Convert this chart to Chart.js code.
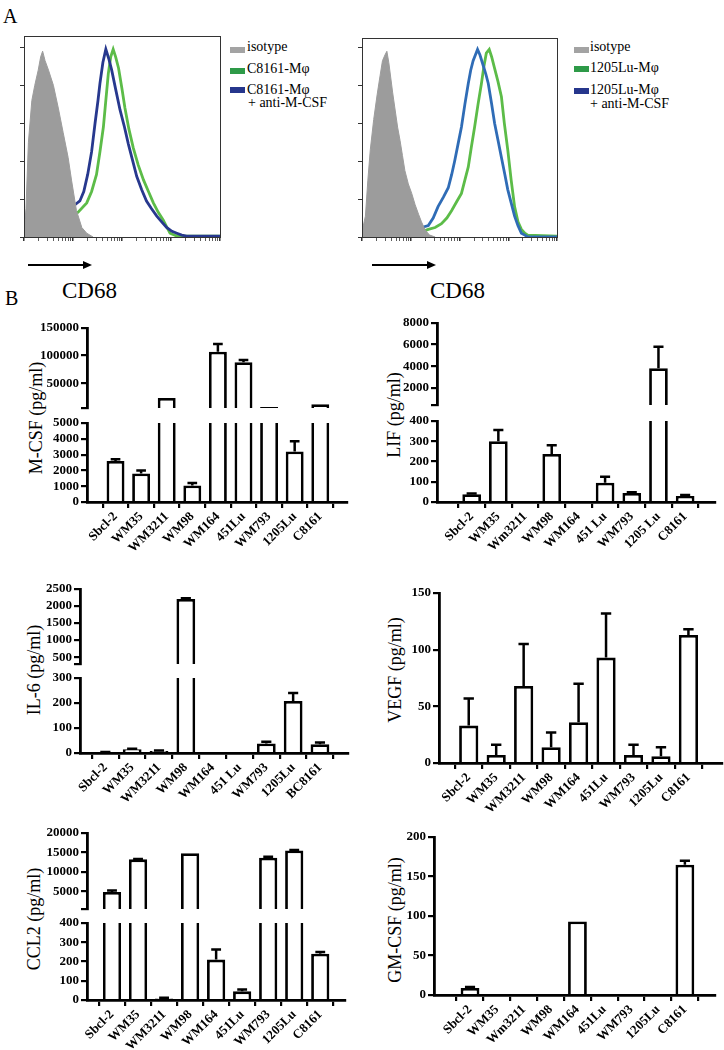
<!DOCTYPE html>
<html>
<head>
<meta charset="utf-8">
<script src="https://cdn.jsdelivr.net/npm/chart.js@4.4.1/dist/chart.umd.min.js"></script>
<style>
body { margin:0; background:#fff; width:724px; height:1050px; position:relative; overflow:hidden; font-family:"Liberation Serif", "Times New Roman", serif; color:#000; }
canvas { position:absolute; }
.t { position:absolute; white-space:nowrap; line-height:1; }
.lg { font-size:14px; }
.sw { position:absolute; width:15px; height:6px; }
.ytitle { position:absolute; white-space:nowrap; line-height:1; font-size:18px; transform:translate(-50%,-50%) rotate(-90deg); }
.arrow { position:absolute; height:1.5px; background:#000; }
.arrow:after { content:''; position:absolute; right:-9px; top:-3.5px; border-left:9px solid #000; border-top:4px solid transparent; border-bottom:4px solid transparent; }
</style>
</head>
<body>

<div class="t" style="left:3px;top:6px;font-size:20px">A</div>
<div class="t" style="left:5px;top:288px;font-size:20px">B</div>

<!-- legend, left histogram -->
<div class="sw" style="left:230px;top:47px;background:#a3a3a3"></div>
<div class="t lg" style="left:247px;top:40px">isotype</div>
<div class="sw" style="left:230px;top:68px;background:#2e9a48"></div>
<div class="t lg" style="left:247px;top:62px">C8161-Mφ</div>
<div class="sw" style="left:230px;top:87px;background:#26368c"></div>
<div class="t lg" style="left:247px;top:83px">C8161-Mφ</div>
<div class="t lg" style="left:248px;top:96px">+ anti-M-CSF</div>

<!-- legend, right histogram -->
<div class="sw" style="left:574px;top:47px;background:#a3a3a3"></div>
<div class="t lg" style="left:590px;top:40px">isotype</div>
<div class="sw" style="left:574px;top:66px;background:#2e9a48"></div>
<div class="t lg" style="left:590px;top:61px">1205Lu-Mφ</div>
<div class="sw" style="left:574px;top:88px;background:#26368c"></div>
<div class="t lg" style="left:590px;top:83px">1205Lu-Mφ</div>
<div class="t lg" style="left:590px;top:97px">+ anti-M-CSF</div>

<div class="arrow" style="left:28px;top:264px;width:55px"></div>
<div class="arrow" style="left:372px;top:264px;width:55px"></div>
<div class="t" style="left:62px;top:279px;font-size:23px">CD68</div>
<div class="t" style="left:430px;top:279px;font-size:23px">CD68</div>

<div class="ytitle" style="left:36px;top:418px">M-CSF (pg/ml)</div>
<div class="ytitle" style="left:394px;top:415px">LIF (pg/ml)</div>
<div class="ytitle" style="left:34px;top:670px">IL-6 (pg/ml)</div>
<div class="ytitle" style="left:395px;top:670px">VEGF (pg/ml)</div>
<div class="ytitle" style="left:34px;top:919px">CCL2 (pg/ml)</div>
<div class="ytitle" style="left:395px;top:920px">GM-CSF (pg/ml)</div>

<script>
// ---- flow histograms: [log decade, % of max] ----
var c8161Iso = [[0,3],[0.04,15],[0.09,50],[0.16,72],[0.22,80],[0.29,88],[0.34,95],[0.38,98],[0.43,93],[0.5,88],[0.6,80],[0.7,68],[0.8,55],[0.9,42],[0.97,30],[1.07,14],[1.18,5],[1.28,2],[1.41,0]];
var c8161Anti = [[0,12],[0.03,5],[0.1,4],[0.3,4],[0.5,4],[0.6,5],[0.73,9],[0.85,12],[0.94,15],[1.04,17],[1.14,19],[1.22,24],[1.3,33],[1.38,45],[1.45,60],[1.51,72],[1.55,81],[1.61,92],[1.67,99],[1.73,94],[1.79,88],[1.87,78],[1.96,67],[2.05,58],[2.13,49],[2.22,40],[2.3,32],[2.4,25],[2.5,19],[2.6,15],[2.71,11],[2.81,8],[2.91,5],[3.02,3],[3.12,2],[3.22,1],[3.32,0.5],[4,0.5]];
var c8161Mac = [[0,9],[0.05,6],[0.2,7],[0.4,8],[0.6,9],[0.8,10],[0.95,11],[1.1,13],[1.28,18],[1.38,24],[1.48,33],[1.55,45],[1.62,58],[1.67,72],[1.72,86],[1.77,95],[1.82,99],[1.87,95],[1.93,89],[2.0,78],[2.06,68],[2.14,57],[2.23,47],[2.33,38],[2.44,30],[2.54,24],[2.64,18],[2.74,13],[2.84,9],[2.92,5],[2.98,2],[3.1,0.7],[3.2,0.5],[4,0.5]];

var lu1205Iso = [[0,3],[0.07,11],[0.12,30],[0.17,46],[0.24,62],[0.31,75],[0.37,85],[0.42,93],[0.47,96],[0.51,98],[0.55,92],[0.58,86],[0.63,76],[0.68,67],[0.73,58],[0.78,51],[0.83,43],[0.88,35],[0.95,28],[1.02,23],[1.09,17],[1.16,12],[1.22,8],[1.29,4],[1.35,2],[1.39,1],[1.5,0]];
var lu1205Anti = [[0,4],[0.1,7],[0.2,8],[0.41,9],[0.55,10],[0.68,10],[0.82,9],[0.95,8],[1.1,7],[1.22,5],[1.36,6],[1.46,10],[1.56,16],[1.67,21],[1.77,26],[1.84,33],[1.9,40],[1.97,49],[2.04,58],[2.11,70],[2.18,81],[2.23,88],[2.28,93],[2.37,99],[2.42,96],[2.48,91],[2.54,86],[2.59,81],[2.66,70],[2.72,60],[2.79,51],[2.86,42],[2.93,33],[2.99,25],[3.06,18],[3.13,11],[3.2,6],[3.27,2],[3.34,1],[3.4,0],[4,0]];
var lu1205Mac = [[0,1],[0.1,2],[0.27,4],[0.5,4],[0.68,4],[0.9,3],[1.09,3],[1.25,3],[1.36,4],[1.5,5],[1.63,7],[1.74,10],[1.84,14],[1.95,19],[2.04,23],[2.11,30],[2.18,37],[2.24,47],[2.31,58],[2.38,70],[2.45,81],[2.5,90],[2.55,97],[2.61,99],[2.66,95],[2.72,89],[2.79,82],[2.86,74],[2.92,60],[2.99,46],[3.06,30],[3.13,16],[3.2,8],[3.27,4],[3.34,2],[3.4,1],[4,0.5]];

// ---- cytokine bar charts (mean, top of error bar) ----
var mcsfCats = ['Sbcl-2','WM35','WM3211','WM98','WM164','451Lu','WM793','1205Lu','C8161'];
var mcsfVals = [2600, 1800, 23000, 1050, 107000, 88000, 7000, 3200, 12000];
var mcsfErr  = [2700, 2000, 23000, 1200, 121000, 92000, 7000, 3850, 12000];
var mcsfTopTicks = [5000, 50000, 100000, 150000];
var mcsfLowTicks = [0, 1000, 2000, 3000, 4000, 5000];

var lifCats = ['Sbcl-2','WM35','Wm3211','WM98','WM164','451 Lu','WM793','1205 Lu','C8161'];
var lifVals = [38, 300, 0, 237, 0, 95, 45, 3800, 30];
var lifErr  = [42, 355, 0, 280, 0, 125, 48, 5800, 35];
var lifTopTicks = [400, 2000, 4000, 6000, 8000];
var lifLowTicks = [0, 100, 200, 300, 400];

var il6Cats = ['Sbcl-2','WM35','WM3211','WM98','WM164','451 Lu','WM793','1205Lu','BC8161'];
var il6Vals = [3, 15, 8, 2210, 0, 0, 38, 208, 35];
var il6Err  = [4, 17, 10, 2230, 0, 0, 45, 240, 42];
var il6TopTicks = [300, 500, 1000, 1500, 2000, 2500];
var il6LowTicks = [0, 100, 200, 300];

var vegfCats = ['Sbcl-2','WM35','WM3211','WM98','WM164','451Lu','WM793','1205Lu','C8161'];
var vegfVals = [33, 7, 68, 14, 36, 93, 7, 6, 113];
var vegfErr  = [57, 16, 105, 27, 70, 132, 16, 14, 118];
var vegfTicks = [0, 50, 100, 150];

var ccl2Cats = ['Sbcl-2','WM35','WM3211','WM98','WM164','451Lu','WM793','1205Lu','C8161'];
var ccl2Vals = [4800, 13200, 8, 14800, 210, 45, 13600, 15500, 240];
var ccl2Err  = [5200, 13300, 12, 14800, 262, 55, 13900, 15600, 250];
var ccl2TopTicks = [400, 5000, 10000, 15000, 20000];
var ccl2LowTicks = [0, 100, 200, 300, 400];

var gmcsfCats = ['Sbcl-2','WM35','Wm3211','WM98','WM164','451Lu','WM793','1205Lu','C8161'];
var gmcsfVals = [9, 0, 0, 0, 93, 0, 0, 0, 165];
var gmcsfErr  = [10, 0, 0, 0, 93, 0, 0, 0, 170];
var gmcsfTicks = [0, 50, 100, 150, 200];

Chart.defaults.font.family = '"Liberation Serif", "Times New Roman", serif';
Chart.defaults.color = '#000';

function addCanvas(l, t, w, h) {
  var c = document.createElement('canvas');
  c.width = w; c.height = h;
  c.style.left = l + 'px'; c.style.top = t + 'px';
  c.style.width = w + 'px'; c.style.height = h + 'px';
  document.body.appendChild(c);
  return c;
}

// upward error bars, clipped to the chart area so broken axes work
var errorBars = {
  id: 'errorBars',
  afterDatasetsDraw: function(chart) {
    var ds = chart.data.datasets[0], err = ds.errors;
    if (!err) return;
    var meta = chart.getDatasetMeta(0), y = chart.scales.y, a = chart.chartArea, ctx = chart.ctx;
    ctx.save();
    ctx.beginPath();
    ctx.rect(a.left, a.top - 1.5, a.right - a.left, a.bottom - a.top + 1.5);
    ctx.clip();
    ctx.strokeStyle = '#000';
    ctx.lineWidth = 2.5;
    meta.data.forEach(function(bar, i) {
      var v = ds.data[i].y;
      if (err[i] <= v || err[i] < y.min || v > y.max) return;
      var y0 = y.getPixelForValue(v), y1 = y.getPixelForValue(err[i]), hw = bar.width * 0.27;
      ctx.beginPath();
      ctx.moveTo(bar.x, y0); ctx.lineTo(bar.x, y1);
      if (err[i] <= y.max) { ctx.moveTo(bar.x - hw, y1); ctx.lineTo(bar.x + hw, y1); }
      ctx.stroke();
    });
    ctx.restore();
  }
};

// one segment of a bar chart; broken axes use two of them
function barPanel(p) {
  var YW = 70, PT = 10, PR = 6, XH = 58, PB = 10;
  var left = p.axisX - YW, top = p.top - PT;
  var w = p.right - left + PR;
  var h = p.bottom - top + (p.showX ? XH : PB);
  var c = addCanvas(left, top, w, h);
  var lo = p.ticks[0], hi = p.ticks[p.ticks.length - 1];
  new Chart(c, {
    type: 'bar',
    data: {
      datasets: [{
        data: p.vals.map(function(v, i) { return {x: i, y: v}; }),
        errors: p.errs,
        backgroundColor: '#fff',
        borderColor: '#000',
        borderWidth: 2.8,
        barPercentage: 0.7,
        categoryPercentage: 1,
        clip: {left: 4, right: 4, top: 0, bottom: 0}
      }]
    },
    options: {
      responsive: false,
      animation: false,
      devicePixelRatio: 1,
      layout: {padding: {top: PT, right: PR, left: 0, bottom: p.showX ? 0 : PB}},
      plugins: {legend: {display: false}, tooltip: {enabled: false}},
      scales: {
        x: {
          type: 'linear',
          display: p.showX,
          min: p.xmin,
          max: p.xmax,
          afterBuildTicks: function(s) { s.ticks = p.cats.map(function(c, i) { return {value: i}; }); },
          afterFit: function(s) { if (p.showX) s.height = XH; },
          ticks: {
            autoSkip: false, minRotation: 45, maxRotation: 45, padding: 1,
            font: {size: 13, weight: 'bold'},
            callback: function(v) { return p.cats[v]; }
          },
          grid: {drawOnChartArea: false, tickLength: 6, color: '#000', lineWidth: 2.2},
          border: {color: '#000', width: 2.8}
        },
        y: {
          min: lo,
          max: hi,
          afterBuildTicks: function(s) { s.ticks = p.ticks.map(function(v) { return {value: v}; }); },
          afterFit: function(s) { s.width = YW; },
          ticks: {
            autoSkip: false,
            padding: 2,
            font: {size: 13, weight: 'bold'},
            callback: function(v) { return (p.blankMin && v === lo) ? '' : String(v); }
          },
          grid: {drawOnChartArea: false, tickLength: 6, color: '#000', lineWidth: 2.2},
          border: {color: '#000', width: 2.8}
        }
      }
    },
    plugins: [errorBars]
  });
}

var frame = {
  id: 'frame',
  afterDraw: function(chart) {
    var a = chart.chartArea, ctx = chart.ctx;
    ctx.save();
    ctx.strokeStyle = '#333';
    ctx.lineWidth = 1;
    ctx.strokeRect(Math.round(a.left) + 0.5, Math.round(a.top) + 0.5, Math.round(a.right - a.left), Math.round(a.bottom - a.top));
    ctx.restore();
  }
};

function logTicks(s) {
  var t = [];
  for (var d = 0; d < 4; d++) {
    for (var k = 1; k < 10; k++) t.push({value: d + Math.log10(k), major: k === 1});
  }
  t.push({value: 4, major: true});
  s.ticks = t;
}

function histPanel(hp) {
  var YW = 5, PT = 3, PR = 3, XH = 5;
  var left = hp.left - YW, top = hp.top - PT;
  var c = addCanvas(left, top, hp.right - left + PR, hp.bottom - top + XH + 2);
  new Chart(c, {
    type: 'line',
    data: {
      datasets: [
        {data: hp.iso, fill: 'origin', backgroundColor: '#9c9c9c', borderColor: '#9c9c9c', borderWidth: 1, pointRadius: 0, tension: 0},
        {data: hp.anti, fill: false, borderColor: hp.blue, borderWidth: 2.8, pointRadius: 0, tension: 0},
        {data: hp.mac, fill: false, borderColor: '#5cbc48', borderWidth: 2.8, pointRadius: 0, tension: 0}
      ]
    },
    options: {
      responsive: false,
      animation: false,
      devicePixelRatio: 1,
      layout: {padding: {top: PT, right: PR, left: 0, bottom: 2}},
      plugins: {legend: {display: false}, tooltip: {enabled: false}},
      scales: {
        x: {
          type: 'linear', min: 0, max: 4,
          afterBuildTicks: logTicks,
          afterFit: function(s) { s.height = XH; },
          ticks: {display: false, autoSkip: false},
          grid: {drawOnChartArea: false, tickLength: 4, color: '#333',
                 lineWidth: function(ctx) { return ctx.tick && ctx.tick.major ? 1.5 : 0.8; }},
          border: {color: '#333', width: 1}
        },
        y: {
          min: 0, max: hp.ymax,
          afterBuildTicks: function(s) { s.ticks = [0, 20, 40, 60, 80, 100].map(function(v) { return {value: v}; }); },
          ticks: {display: false, autoSkip: false},
          afterFit: function(s) { s.width = YW; },
          grid: {drawOnChartArea: false, tickLength: 4, color: '#333', lineWidth: 1},
          border: {color: '#333', width: 1}
        }
      }
    },
    plugins: [frame]
  });
}

histPanel({left: 24, right: 220, top: 36, bottom: 237, ymax: 106, iso: c8161Iso, anti: c8161Anti, mac: c8161Mac, blue: '#27388e'});
histPanel({left: 362, right: 557, top: 38, bottom: 237, ymax: 105, iso: lu1205Iso, anti: lu1205Anti, mac: lu1205Mac, blue: '#2f6cb6'});

// M-CSF
barPanel({cats: mcsfCats, vals: mcsfVals, errs: mcsfErr, ticks: mcsfTopTicks, blankMin: true, showX: false,
  axisX: 87, right: 347, top: 328, bottom: 408, xmin: -0.55, xmax: 8.48});
barPanel({cats: mcsfCats, vals: mcsfVals, errs: mcsfErr, ticks: mcsfLowTicks, showX: true,
  axisX: 87, right: 347, top: 423, bottom: 502, xmin: -0.55, xmax: 8.48});
// LIF
barPanel({cats: lifCats, vals: lifVals, errs: lifErr, ticks: lifTopTicks, blankMin: true, showX: false,
  axisX: 437, right: 715, top: 323, bottom: 405, xmin: -0.72, xmax: 8.54});
barPanel({cats: lifCats, vals: lifVals, errs: lifErr, ticks: lifLowTicks, showX: true,
  axisX: 437, right: 715, top: 421, bottom: 502, xmin: -0.72, xmax: 8.54});
// IL-6
barPanel({cats: il6Cats, vals: il6Vals, errs: il6Err, ticks: il6TopTicks, blankMin: true, showX: false,
  axisX: 80, right: 348, top: 589, bottom: 664, xmin: -0.39, xmax: 8.49});
barPanel({cats: il6Cats, vals: il6Vals, errs: il6Err, ticks: il6LowTicks, showX: true,
  axisX: 80, right: 348, top: 678, bottom: 753, xmin: -0.39, xmax: 8.49});
// VEGF
barPanel({cats: vegfCats, vals: vegfVals, errs: vegfErr, ticks: vegfTicks, showX: true,
  axisX: 439, right: 722, top: 593, bottom: 763, xmin: -0.51, xmax: 8.65});
// CCL2
barPanel({cats: ccl2Cats, vals: ccl2Vals, errs: ccl2Err, ticks: ccl2TopTicks, blankMin: true, showX: false,
  axisX: 87, right: 345, top: 833, bottom: 909, xmin: -0.41, xmax: 8.4});
barPanel({cats: ccl2Cats, vals: ccl2Vals, errs: ccl2Err, ticks: ccl2LowTicks, showX: true,
  axisX: 87, right: 345, top: 923, bottom: 1000, xmin: -0.41, xmax: 8.4});
// GM-CSF
barPanel({cats: gmcsfCats, vals: gmcsfVals, errs: gmcsfErr, ticks: gmcsfTicks, showX: true,
  axisX: 434, right: 715, top: 837, bottom: 995, xmin: -0.76, xmax: 8.54});
</script>
</body>
</html>
